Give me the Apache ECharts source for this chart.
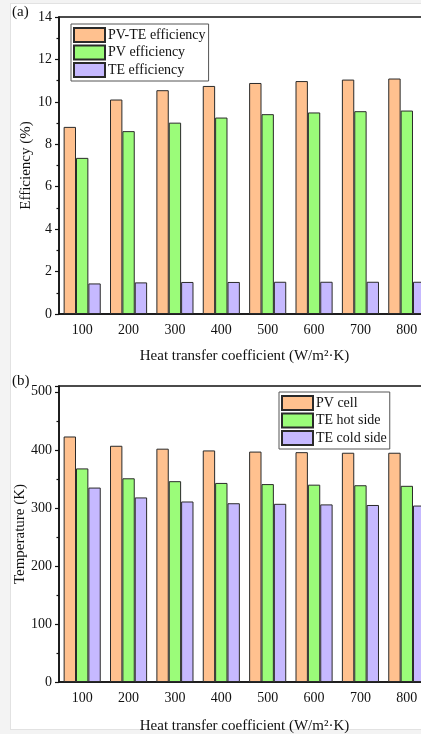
<!DOCTYPE html>
<html>
<head>
<meta charset="utf-8">
<script src="https://cdn.jsdelivr.net/npm/echarts@6/dist/echarts.min.js"></script>
<style>
  html, body { margin: 0; padding: 0; background: #f3f3f3; }
  #sheet { position: absolute; left: 10px; top: 3px; width: 420px; height: 727px; background: #fff; border: 1px solid #e2e2e2; box-sizing: border-box; }
  #chart { position: absolute; left: 0; top: 0; width: 421px; height: 734px; }
</style>
</head>
<body>
<div id="sheet"></div>
<div id="chart"></div>
<script>
// Heat transfer coefficient categories (W/m²·K)
const categories = ['100', '200', '300', '400', '500', '600', '700', '800'];

// (a) efficiencies, %
const pvteEfficiency = [8.82, 10.11, 10.55, 10.75, 10.89, 10.98, 11.05, 11.10];
const pvEfficiency   = [7.36, 8.62, 9.02, 9.26, 9.42, 9.50, 9.56, 9.59];
const teEfficiency   = [1.44, 1.49, 1.51, 1.51, 1.52, 1.52, 1.52, 1.52];

// (b) temperatures, K
const pvCellTemp = [423, 407, 402, 399, 397, 396, 395, 395];
const teHotTemp  = [368, 351, 346, 343, 341, 340, 339, 338];
const teColdTemp = [335, 318, 311, 308, 307, 306, 305, 304];

const FONT = 'Liberation Serif';
const INK = '#111';
const EDGE = '#2a2a2a';
const ORANGE = '#FFC18F';
const GREEN = '#9BFC79';
const PURPLE = '#C6B9FF';

function xAxes(gridIndex, nameGap) {
  return [
    {
      type: 'category', gridIndex, data: categories,
      name: 'Heat transfer coefficient (W/m²·K)', nameLocation: 'middle', nameGap,
      nameMoveOverlap: false,
      nameTextStyle: { fontFamily: FONT, fontSize: 15, color: INK },
      axisLine: { lineStyle: { color: INK, width: 1.5 } },
      axisTick: { alignWithLabel: true, length: 5, lineStyle: { color: INK, width: 1.2 } },
      axisLabel: { fontFamily: FONT, fontSize: 14, color: INK, margin: 9 },
      splitLine: { show: false }
    },
    {
      // boundary ticks between categories
      type: 'category', gridIndex, data: categories, position: 'bottom',
      axisLine: { show: false },
      axisTick: { length: 3, lineStyle: { color: INK, width: 1.2 } },
      axisLabel: { show: false },
      splitLine: { show: false }
    }
  ];
}

function yAxis(gridIndex, name, max, interval, nameGap) {
  return {
    type: 'value', gridIndex, min: 0, max, interval,
    name, nameLocation: 'middle', nameGap, nameMoveOverlap: false,
    nameTextStyle: { fontFamily: FONT, fontSize: 15, color: INK },
    axisLine: { show: true, lineStyle: { color: INK, width: 1.5 } },
    axisTick: { show: true, length: 4, lineStyle: { color: INK, width: 1.2 } },
    minorTick: { show: true, splitNumber: 2, length: 2.5, lineStyle: { color: INK, width: 1.2 } },
    axisLabel: { fontFamily: FONT, fontSize: 14, color: INK, margin: 7, showMaxLabel: max % interval === 0 },
    splitLine: { show: false }
  };
}

function bar(name, data, color, axisIdx) {
  return {
    type: 'bar', name, data,
    xAxisIndex: axisIdx * 2, yAxisIndex: axisIdx,
    barGap: '0%', barCategoryGap: '20%',
    itemStyle: { color, borderColor: EDGE, borderWidth: 1 },
    emphasis: { disabled: true }
  };
}

function legend(left, top, names) {
  return {
    data: names, orient: 'vertical', left, top,
    icon: 'rect', itemWidth: 31, itemHeight: 14, itemGap: 1.5,
    padding: [3, 3, 3, 2],
    borderColor: '#555', borderWidth: 1, backgroundColor: '#fff',
    textStyle: { fontFamily: FONT, fontSize: 14, color: INK, padding: [0, 0, 0, -2] },
    selectedMode: false
  };
}

const panelTag = (text, top) => ({
  text, left: 12, top, padding: 0,
  textStyle: { fontFamily: FONT, fontSize: 15, fontWeight: 'normal', color: INK }
});

const gridBox = (top, height) => ({
  left: 59, top, width: 371, height,
  outerBoundsMode: 'none', containLabel: false,
  show: true, borderColor: INK, borderWidth: 1.5, backgroundColor: 'transparent'
});

const chart = echarts.init(document.getElementById('chart'), null, { renderer: 'canvas' });
chart.setOption({
  animation: false,
  backgroundColor: 'transparent',
  title: [panelTag('(a)', 5), panelTag('(b)', 374)],
  grid: [gridBox(17, 297), gridBox(386, 296)],
  legend: [
    legend(71, 24, ['PV-TE efficiency', 'PV efficiency', 'TE efficiency']),
    legend(279, 392, ['PV cell', 'TE hot side', 'TE cold side'])
  ],
  xAxis: [...xAxes(0, 35), ...xAxes(1, 37)],
  yAxis: [
    yAxis(0, 'Efficiency (%)', 14, 2, 25),
    yAxis(1, 'Temperature (K)', 510, 100, 31)
  ],
  series: [
    bar('PV-TE efficiency', pvteEfficiency, ORANGE, 0),
    bar('PV efficiency', pvEfficiency, GREEN, 0),
    bar('TE efficiency', teEfficiency, PURPLE, 0),
    bar('PV cell', pvCellTemp, ORANGE, 1),
    bar('TE hot side', teHotTemp, GREEN, 1),
    bar('TE cold side', teColdTemp, PURPLE, 1)
  ]
});
</script>
</body>
</html>
